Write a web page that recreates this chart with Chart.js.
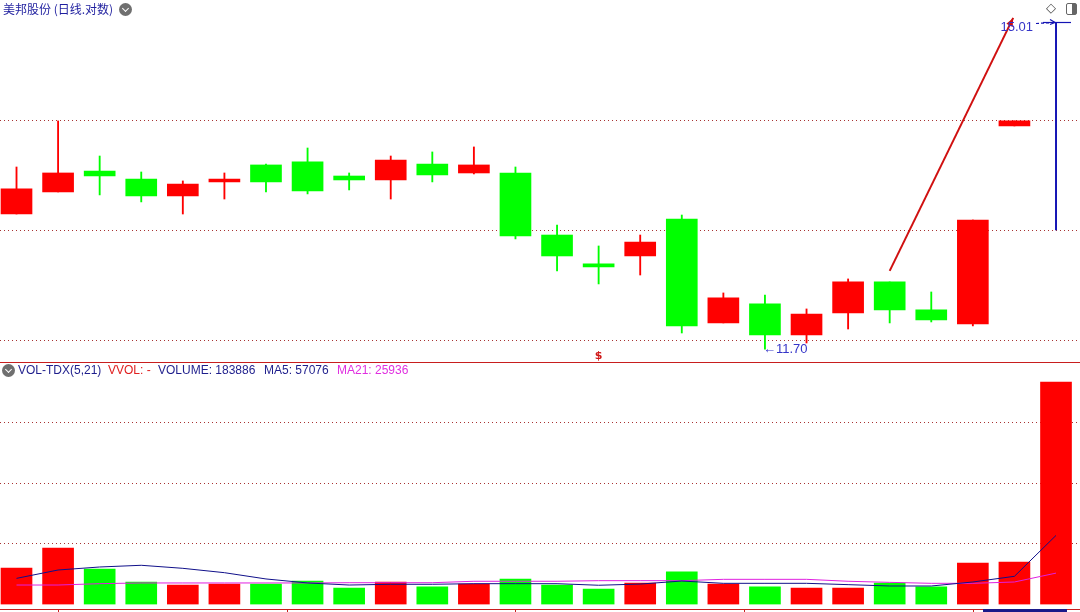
<!DOCTYPE html>
<html>
<head>
<meta charset="utf-8">
<script src="https://cdn.jsdelivr.net/npm/chart.js@4.4.1/dist/chart.umd.min.js"></script>
<style>
  body { margin: 0; background: #fff; }
  #wrap { position: relative; width: 1080px; height: 612px; overflow: hidden; background: #fff; }
  .abs { position: absolute; }
  .hdr { position: absolute; top: 363px; font: 12px "Liberation Sans", Arial, sans-serif; line-height: 14px; white-space: nowrap; }
  .dot { position: absolute; width: 13px; height: 13px; border-radius: 50%; background: #6f6f6f; }
  .dot::after { content: ""; position: absolute; left: 4px; top: 3px; width: 4px; height: 4px; border-right: 1.5px solid #fff; border-bottom: 1.5px solid #fff; transform: rotate(45deg); }
</style>
</head>
<body>
<div id="wrap">
  <canvas id="priceChart" class="abs" width="1080" height="362" style="left:0;top:0"></canvas>
  <canvas id="volChart" class="abs" width="1080" height="250" style="left:0;top:362px"></canvas>

  <div class="abs" style="left:3px;top:1px;font:12px 'Noto Sans CJK SC',sans-serif;line-height:16px;color:#1f1f9f">美邦股份 (日线.对数)</div>
  <div class="dot" style="left:119px;top:3px"></div>
  <div class="abs" style="left:1046px;top:0px;font:13px 'DejaVu Sans',sans-serif;color:#444">◇</div>
  <div class="abs" style="left:1066px;top:3px;width:9px;height:10px;border:1.5px solid #666;border-radius:2px">
    <div class="abs" style="right:0;top:0;width:4px;height:10px;background:#666"></div>
  </div>

  <div class="abs" style="left:0;top:362px;width:1080px;height:1px;background:#c81e1e"></div>
  <div class="dot" style="left:2px;top:364px"></div>
  <div class="hdr" style="left:18px;color:#1e1e8c">VOL-TDX(5,21)</div>
  <div class="hdr" style="left:108px;color:#e02020">VVOL: -</div>
  <div class="hdr" style="left:158px;color:#1e1e8c">VOLUME: 183886</div>
  <div class="hdr" style="left:264px;color:#1e1e8c">MA5: 57076</div>
  <div class="hdr" style="left:337px;color:#e030e0">MA21: 25936</div>
  <div class="abs" style="left:983px;top:609px;width:84px;height:4px;background:#1a1a8a"></div>
</div>
<script>
// daily candles (index 25 = last day, shown only as range line)
const opens  = [12.970, 13.190, 13.402, 13.321, 13.150, 13.291, 13.464, 13.495, 13.351, 13.311, 13.474, 13.382, 13.382,
                12.764, 12.486, 12.562, 12.921, 11.937, 12.111, 11.828, 12.028, 12.316, 12.056, 11.928, 13.870, null];
const closes = [13.220, 13.382, 13.351, 13.150, 13.270, 13.321, 13.291, 13.200, 13.311, 13.515, 13.362, 13.464, 12.755,
                12.562, 12.457, 12.696, 11.910, 12.167, 11.828, 12.019, 12.316, 12.056, 11.964, 12.911, 13.923, null];
const highs  = [13.443, 13.923, 13.556, 13.392, 13.301, 13.382, 13.474, 13.639, 13.382, 13.556, 13.598, 13.650, 13.443,
                12.862, 12.658, 12.764, 12.960, 12.213, 12.194, 12.065, 12.344, 12.316, 12.222, 12.911, 13.923, 15.01];
const lows   = [12.970, 13.190, 13.160, 13.090, 12.970, 13.119, 13.190, 13.170, 13.210, 13.119, 13.291, 13.372, 12.726,
                12.419, 12.297, 12.381, 11.846, 11.937, 11.70, 11.756, 11.882, 11.937, 11.946, 11.910, 13.870, 12.813];

const volumes = [30150, 46700, 29300, 18600, 16100, 16900, 16900, 19400, 13600, 18600, 14500, 16900, 21100,
                 16100, 12800, 17800, 26900, 16900, 14500, 13600, 13600, 17800, 14500, 34200, 35000, 183886];
const ma5  = [21600, 28500, 31000, 32400, 29900, 26300, 21100, 17800, 16100, 16700, 16700, 17200, 17200,
              17200, 15900, 16900, 19400, 17500, 17500, 17500, 16400, 15300, 15300, 18600, 23300, 57076];
const ma21 = [16100, 16100, 17200, 17800, 17800, 17800, 17800, 17800, 18000, 18000, 18000, 19200, 19200,
              19200, 19700, 19700, 19700, 20800, 20800, 20800, 19200, 18300, 17500, 17500, 18600, 25936];

const priceGrid = [11.774, 12.804, 13.923];
const volGrid = [50000, 100000, 150000];
const trendFrom = [21, 12.42];
const trendTo = [23.97, 15.06];
const sellSignalIdx = 14;
const dateTicks = [1, 6.5, 12, 17.5, 23];

const RED = '#ff0000', GREEN = '#00ff00', BLUE = '#1414b4', GRID = '#a83232';
const isUp = i => opens[i] == null || closes[i] >= opens[i];
const candleColor = ctx => isUp(ctx.raw.x) ? RED : GREEN;
const idx = volumes.map((v, i) => i);
const X_MIN = -0.397, X_MAX = 25.577;

const xScale = { type: 'linear', min: X_MIN, max: X_MAX, offset: false, bounds: 'ticks', display: false };

const priceOverlay = {
  id: 'priceOverlay',
  afterDatasetsDraw(chart) {
    const { ctx, scales: { x, y }, chartArea } = chart;
    ctx.save();
    // trend arrow
    const x1 = x.getPixelForValue(trendFrom[0]), y1 = y.getPixelForValue(trendFrom[1]);
    const x2 = x.getPixelForValue(trendTo[0]), y2 = y.getPixelForValue(trendTo[1]);
    ctx.strokeStyle = '#d01010'; ctx.fillStyle = '#d01010'; ctx.lineWidth = 2;
    ctx.beginPath(); ctx.moveTo(x1, y1); ctx.lineTo(x2, y2); ctx.stroke();
    const a = Math.atan2(y2 - y1, x2 - x1);
    ctx.beginPath();
    ctx.moveTo(x2, y2);
    ctx.lineTo(x2 - 9 * Math.cos(a - 0.4), y2 - 9 * Math.sin(a - 0.4));
    ctx.lineTo(x2 - 9 * Math.cos(a + 0.4), y2 - 9 * Math.sin(a + 0.4));
    ctx.closePath(); ctx.fill();

    // range marker on the last day
    const last = highs.length - 1;
    const xl = x.getPixelForValue(last), yh = Math.round(y.getPixelForValue(highs[last])) + 0.5;
    ctx.strokeStyle = BLUE; ctx.lineWidth = 1.2; ctx.setLineDash([]);
    ctx.beginPath(); ctx.moveTo(xl - 13, yh); ctx.lineTo(xl + 15, yh); ctx.stroke();
    ctx.setLineDash([3, 2]);
    ctx.beginPath(); ctx.moveTo(xl - 20, yh + 1); ctx.lineTo(xl - 2, yh); ctx.stroke();
    ctx.setLineDash([]);
    ctx.beginPath(); ctx.moveTo(xl - 6, yh - 3); ctx.lineTo(xl - 1, yh); ctx.lineTo(xl - 6, yh + 2); ctx.stroke();

    ctx.font = '13px "Liberation Sans", Arial, sans-serif';
    ctx.fillStyle = '#3535c8';
    ctx.textBaseline = 'middle';
    ctx.textAlign = 'right';
    ctx.fillText(Math.max(...highs).toFixed(2), xl - 23, yh + 5);

    // lowest low label
    const lo = Math.min(...lows), li = lows.indexOf(lo);
    ctx.textAlign = 'left';
    ctx.fillText('←' + lo.toFixed(2), x.getPixelForValue(li) - 2, y.getPixelForValue(lo));

    // sell signal
    ctx.font = 'bold 11px "DejaVu Sans", sans-serif';
    ctx.fillStyle = '#d01818';
    ctx.textAlign = 'center';
    ctx.fillText('$', x.getPixelForValue(sellSignalIdx), chartArea.bottom - 6);
    ctx.restore();
  }
};

new Chart(document.getElementById('priceChart'), {
  type: 'bar',
  data: {
    datasets: [
      {
        label: 'body',
        data: idx.filter(i => opens[i] != null).map(i => ({ x: i, y: [opens[i], closes[i]] })),
        backgroundColor: candleColor,
        barThickness: 31,
        order: 1
      },
      {
        label: 'shadow',
        data: idx.filter(i => opens[i] != null).map(i => ({ x: i, y: [lows[i], highs[i]] })),
        backgroundColor: candleColor,
        barThickness: 1.2,
        order: 2
      },
      {
        label: 'range',
        data: idx.filter(i => opens[i] == null).map(i => ({ x: i, y: [lows[i], highs[i]] })),
        backgroundColor: BLUE,
        barThickness: 1.3,
        order: 2
      }
    ]
  },
  options: {
    responsive: false,
    animation: false,
    layout: { padding: 0 },
    datasets: { bar: { grouped: false, borderWidth: 0 } },
    plugins: { legend: { display: false }, tooltip: { enabled: false } },
    scales: {
      x: xScale,
      y: {
        type: 'logarithmic',
        min: 11.587,
        max: 15.267,
        afterBuildTicks: s => { s.ticks = priceGrid.map(v => ({ value: v })); },
        ticks: { display: false },
        grid: { color: GRID, drawTicks: false },
        border: { display: false, dash: [1, 3] }
      }
    }
  },
  plugins: [priceOverlay]
});

const volOverlay = {
  id: 'volOverlay',
  afterDraw(chart) {
    const { ctx, scales: { x }, chartArea } = chart;
    const yb = Math.round(chartArea.bottom) + 4.5;
    ctx.save();
    ctx.strokeStyle = '#c81e1e'; ctx.lineWidth = 1;
    ctx.beginPath(); ctx.moveTo(0, yb); ctx.lineTo(chart.width, yb); ctx.stroke();
    dateTicks.forEach(t => {
      const px = Math.round(x.getPixelForValue(t)) + 0.5;
      ctx.beginPath(); ctx.moveTo(px, yb); ctx.lineTo(px, yb + 5); ctx.stroke();
    });
    ctx.restore();
  }
};

new Chart(document.getElementById('volChart'), {
  type: 'bar',
  data: {
    datasets: [
      {
        type: 'line', label: 'MA5',
        data: idx.map(i => ({ x: i, y: ma5[i] })),
        borderColor: '#10108a', borderWidth: 1, pointRadius: 0, tension: 0, order: 0
      },
      {
        type: 'line', label: 'MA21',
        data: idx.map(i => ({ x: i, y: ma21[i] })),
        borderColor: '#e020e0', borderWidth: 1, pointRadius: 0, tension: 0, order: 0
      },
      {
        label: 'VOLUME',
        data: idx.map(i => ({ x: i, y: volumes[i] })),
        backgroundColor: candleColor,
        barThickness: 31,
        order: 1
      }
    ]
  },
  options: {
    responsive: false,
    animation: false,
    layout: { padding: { top: 0, left: 0, right: 0, bottom: 7.5 } },
    datasets: { bar: { grouped: false, borderWidth: 0 } },
    plugins: { legend: { display: false }, tooltip: { enabled: false } },
    scales: {
      x: xScale,
      y: {
        min: 0,
        max: 200400,
        afterBuildTicks: s => { s.ticks = volGrid.map(v => ({ value: v })); },
        ticks: { display: false },
        grid: { color: GRID, drawTicks: false },
        border: { display: false, dash: [1, 3] }
      }
    }
  },
  plugins: [volOverlay]
});
</script>
</body>
</html>
